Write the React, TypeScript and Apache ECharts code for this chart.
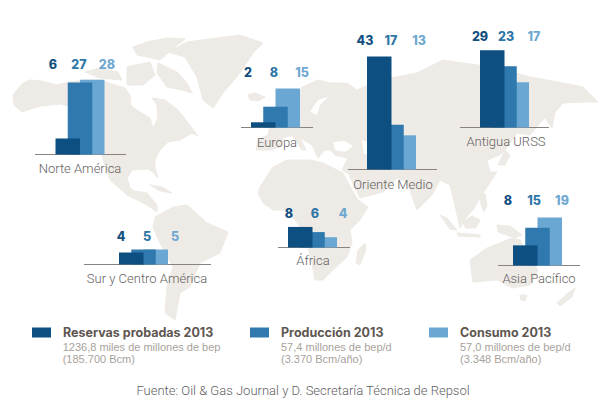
import React, { useEffect, useRef } from "react";
import * as echarts from "echarts";

const regions = ["Norte América", "Europa", "Oriente Medio", "Antigua URSS", "Sur y Centro América", "África", "Asia Pacífico"];
const reservas = [6, 2, 43, 29, 4, 8, 8];
const produccion = [27, 8, 17, 23, 5, 6, 15];
const consumo = [28, 15, 13, 17, 5, 4, 19];
const seriesNames = ["Reservas probadas 2013", "Producción 2013", "Consumo 2013"];
const legendSub1 = ["1236,8 miles de millones de bep", "57,4 millones de bep/d", "57,0 millones de bep/d"];
const legendSub2 = ["(185.700 Bcm)", "(3.370 Bcm/año)", "(3.348 Bcm/año)"];
const source = "Fuente: Oil & Gas Journal y D. Secretaría Técnica de Repsol";

const COLORS = ["#0c4f80", "#2f79ae", "#6aa8d3"];
const LABEL_COLORS = ["#134f7f", "#2e76a8", "#6ea8d0"];
const LAND = "#eeeae5";
const LABEL_FONT = "Roboto";

// layout: group centre x, baseline y, px per unit, line x0, line x1, region label centre (x,y), value label row (x1,x2,x3,y)
const layout = [
  { cx: 80, base: 154.5, k: 2.67, x0: 35, x1: 126, lx: 80, ly: 168, vx: [53, 79, 107], vy: 64 },
  { cx: 275.5, base: 127.5, k: 2.6, x0: 241, x1: 313, lx: 277, ly: 142, vx: [248, 274, 302], vy: 72 },
  { cx: 391.5, base: 169.5, k: 2.63, x0: 348, x1: 437, lx: 393, ly: 184, vx: [365, 391, 419], vy: 40 },
  { cx: 504.5, base: 127.5, k: 2.66, x0: 460, x1: 549, lx: 506, ly: 141, vx: [480, 506, 534], vy: 36 },
  { cx: 143.5, base: 264.5, k: 3, x0: 84, x1: 211, lx: 147, ly: 278, vx: [121, 147, 175], vy: 236 },
  { cx: 312.5, base: 247.5, k: 2.57, x0: 278, x1: 350, lx: 313, ly: 260, vx: [289, 315, 343], vy: 213 },
  { cx: 537.5, base: 265.5, k: 2.52, x0: 498, x1: 580, lx: 539, ly: 278, vx: [508, 534, 562], vy: 200 },
];

// background map outlines
const landShapes: number[][][] = [
  // North + Central America
  [[13,95],[22,84],[30,80],[42,81],[56,85],[70,82],[85,80],[100,80],[112,84],[125,88],[130,95],[131,106],[140,112],[150,118],[153,128],[158,118],[157,105],[152,98],[165,100],[178,110],[188,123],[198,136],[192,133],[180,140],[168,142],[160,150],[155,160],[155,168],[158,178],[153,172],[148,169],[132,170],[127,178],[130,188],[134,191],[147,193],[157,205],[157,212],[147,205],[127,195],[110,180],[105,165],[100,150],[103,125],[85,110],[60,104],[40,106],[22,112],[14,105]],
  // Arctic islands
  [[133,47],[147,42],[167,38],[185,39],[177,45],[168,53],[160,60],[147,57],[137,55]],
  [[127,67],[150,62],[155,75],[143,85],[127,85]],
  [[85,72],[100,68],[118,72],[122,80],[100,78]],
  [[158,63],[177,72],[187,83],[192,93],[182,90],[167,87],[157,73]],
  // Greenland, Iceland
  [[168,52],[187,42],[217,38],[240,35],[263,43],[253,53],[240,73],[223,93],[213,108],[203,100],[197,77],[185,57]],
  [[248,95],[255,93],[265,97],[258,101],[250,100]],
  // UK
  [[266,113],[272,108],[277,118],[278,126],[268,127]],
  // South America
  [[155,217],[173,207],[187,205],[207,223],[228,232],[220,253],[200,263],[190,287],[180,293],[175,320],[165,313],[167,287],[173,267],[160,243],[153,227]],
  // Eurasia
  [[256,150],[258,140],[268,135],[270,125],[280,118],[292,110],[302,87],[318,80],[330,83],[347,83],[357,90],[380,80],[417,73],[443,60],[463,63],[500,68],[530,77],[563,83],[583,87],[598,102],[583,102],[563,103],[555,112],[552,128],[545,118],[540,123],[530,135],[517,133],[505,150],[500,155],[487,160],[490,172],[497,172],[483,193],[473,210],[468,215],[460,228],[455,205],[450,185],[440,180],[432,195],[417,210],[407,182],[397,178],[383,192],[360,198],[348,173],[342,170],[348,158],[335,155],[330,150],[325,150],[318,158],[312,145],[300,138],[306,150],[302,150],[292,135],[283,138],[280,147],[270,150]],
  // Africa
  [[260,187],[273,167],[287,160],[300,160],[310,160],[323,163],[333,168],[343,173],[352,190],[358,200],[368,207],[360,220],[350,230],[352,243],[347,257],[333,270],[323,280],[315,280],[312,263],[307,243],[300,227],[288,210],[273,210],[263,203],[258,193]],
  // Madagascar
  [[365,243],[366,250],[360,265],[356,263],[358,250]],
  // Australia, Tasmania, New Zealand
  [[470,260],[487,248],[500,243],[512,238],[520,240],[528,255],[538,270],[530,285],[513,288],[497,280],[473,282]],
  [[520,295],[527,295],[525,301],[521,300]],
  [[575,288],[572,297],[560,306],[557,303],[568,293]],
  // Indonesia, New Guinea, Philippines, Japan, Cuba
  [[497,225],[510,226],[522,235],[515,238],[498,232]],
  [[463,222],[472,216],[480,220],[476,228],[466,228]],
  [[440,215],[447,218],[457,230],[450,229]],
  [[457,233],[480,235],[480,237],[458,236]],
  [[480,193],[485,194],[487,205],[484,212],[481,204]],
  [[498,165],[505,150],[510,155],[505,165]],
  [[150,185],[162,187],[172,193],[160,191]],
];
// inland waters laid over the land
const waterShapes: number[][][] = [
  [[333,142],[345,141],[353,146],[345,152],[335,150]],
  [[362,140],[368,142],[370,155],[364,154]],
  [[310,112],[318,100],[328,97],[320,105],[317,115]],
];

export default function App() {
  const ref = useRef<HTMLDivElement>(null);
  useEffect(() => {
    const chart = echarts.init(ref.current!, undefined, { renderer: "svg" });
    const Y_MAX = 45;
    const BAR_W = 24.5;
    const all = [reservas, produccion, consumo];
    const graphic: any[] = [];
    landShapes.forEach((pts) =>
      graphic.push({ type: "polygon", z: -10, silent: true, shape: { points: pts }, style: { fill: LAND, stroke: LAND, lineWidth: 1, lineJoin: "round" } })
    );
    waterShapes.forEach((pts) =>
      graphic.push({ type: "polygon", z: -9, silent: true, shape: { points: pts }, style: { fill: "#ffffff" } })
    );
    const grids: any[] = [], xAxes: any[] = [], yAxes: any[] = [], series: any[] = [];
    regions.forEach((r, i) => {
      const l = layout[i];
      const h = Y_MAX * l.k;
      grids.push({ left: l.cx - 40, width: 80, top: l.base - h, height: h });
      xAxes.push({ gridIndex: i, type: "category", data: [r], axisLine: { show: false }, axisTick: { show: false }, axisLabel: { show: false } });
      yAxes.push({ gridIndex: i, type: "value", min: 0, max: Y_MAX, show: false });
      seriesNames.forEach((name, s) =>
        series.push({
          type: "bar", name, xAxisIndex: i, yAxisIndex: i, data: [all[s][i]],
          barWidth: BAR_W, barGap: "-50%", z: 5 - s, silent: true,
          itemStyle: { color: COLORS[s] },
        })
      );
      graphic.push({ type: "line", z: 1, silent: true, shape: { x1: l.x0, y1: l.base, x2: l.x1, y2: l.base }, style: { stroke: "#8a8380", lineWidth: 1 } });
      graphic.push({ type: "text", x: l.lx, y: l.ly, style: { text: r, fill: "#66625f", font: `300 13px ${LABEL_FONT}`, textAlign: "center", textVerticalAlign: "middle" } });
      l.vx.forEach((vx, s) =>
        graphic.push({ type: "text", x: vx, y: l.vy, style: { text: String(all[s][i]), fill: LABEL_COLORS[s], font: "800 12.5px Inter", textAlign: "center", textVerticalAlign: "middle" } })
      );
    });
    const legendLeft = [32, 250, 429];
    const textLeft = [62.7, 281, 460];
    const legends = seriesNames.map((name, s) => ({
      left: legendLeft[s], top: 326, padding: 0, itemWidth: 19, itemHeight: 10, icon: "rect",
      selectedMode: false, data: [name], itemGap: 0,
      textStyle: { color: "#5e5650", fontFamily: "Inter", fontWeight: 700, fontSize: 12.5, padding: [0, 0, 0, 7] },
    }));
    seriesNames.forEach((_, s) => {
      graphic.push({ type: "text", x: textLeft[s], y: 346.7, style: { text: legendSub1[s], fill: "#a8a29c", font: "11px 'Liberation Sans'", textVerticalAlign: "middle" } });
      graphic.push({ type: "text", x: textLeft[s], y: 359.3, style: { text: legendSub2[s], fill: "#a8a29c", font: "11px 'Liberation Sans'", textVerticalAlign: "middle" } });
    });
    graphic.push({ type: "text", x: 303, y: 390, style: { text: source, fill: "#5f5f5f", font: `300 13px ${LABEL_FONT}`, textAlign: "center", textVerticalAlign: "middle" } });
    chart.setOption({
      animation: false,
      backgroundColor: "#ffffff",
      grid: grids, xAxis: xAxes, yAxis: yAxes, series, legend: legends, graphic,
    });
    return () => chart.dispose();
  }, []);
  return <div ref={ref} style={{ position: "absolute", left: 0, top: 0, width: 608, height: 414 }} />;
}
